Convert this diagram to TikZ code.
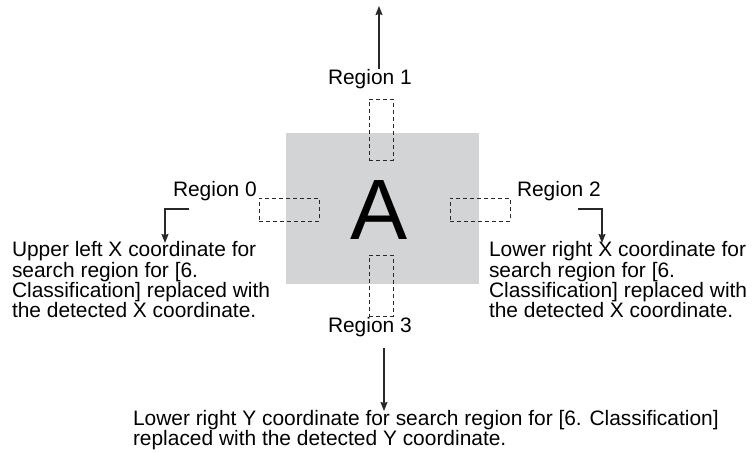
\documentclass[tikz,border=0pt]{standalone}
\usepackage{fontspec}
\setmainfont{Liberation Sans}
\usetikzlibrary{arrows.meta}
\definecolor{boxgray}{RGB}{211,212,214}
\definecolor{linegray}{RGB}{40,40,40}
\begin{document}
\begin{tikzpicture}[x={(1bp,0)},y={(0,-1bp)},
  txt/.style={inner sep=0,outer sep=0,font=\fontsize{21}{18.7}\selectfont,align=left,anchor=base west,text=black},
  dbox/.style={draw=linegray,line width=0.9bp,dash pattern=on 4bp off 3bp,inner sep=0,outer sep=0},
  arr/.style={draw=linegray,line width=1.2bp,-{Stealth[length=9bp,width=7bp,inset=1bp]}}]
\useasboundingbox (0,0) rectangle (755,453);
% gray area with letter
\node[fill=boxgray,inner sep=0,outer sep=0,minimum width=193bp,minimum height=151bp] (area) at (382.5,208.5) {};
\node[inner sep=0,outer sep=0,anchor=base,font=\fontsize{86}{86}\selectfont] (letterA) at (379.5,240) {A};
% dashed regions
\node[dbox,minimum width=24bp,minimum height=61bp] (box1) at (381,129.5) {};
\node[dbox,minimum width=24bp,minimum height=61bp] (box3) at (381,285.5) {};
\node[dbox,minimum width=60bp,minimum height=23bp] (box0) at (289,209.5) {};
\node[dbox,minimum width=60bp,minimum height=23bp] (box2) at (480,209.5) {};
% labels
\node[txt] (r1) at (328,85) {Region 1};
\node[txt] (r3) at (328,333) {Region 3};
\node[txt] (r0) at (173,197) {Region 0};
\node[txt] (r2) at (517,197) {Region 2};
% descriptions (base anchor = baseline of last line)
\node[txt] (d0) at (12,318) {Upper left X coordinate for\\search region for [6.\\Classification] replaced with\\the detected X coordinate.};
\node[txt] (d2) at (489,318) {Lower right X coordinate for\\search region for [6.\\Classification] replaced with\\the detected X coordinate.};
\node[txt] (d3) at (133,445.5) {Lower right Y coordinate for search region for [6. Classification]\\replaced with the detected Y coordinate.};
% arrow endpoints
\coordinate (a1s) at (379,69);
\coordinate (a1e) at (379,6);
\coordinate (a3s) at (384,348);
\coordinate (a3e) at (384,411);
\coordinate (a0s) at (189,209);
\coordinate (a0e) at (165,243);
\coordinate (a2s) at (578,209);
\coordinate (a2e) at (602,243);
% arrows
\draw[arr] (a1s) -- (a1e);
\draw[arr] (a3s) -- (a3e);
\draw[arr] (a0s) -| (a0e);
\draw[arr] (a2s) -| (a2e);
\end{tikzpicture}
\end{document}
